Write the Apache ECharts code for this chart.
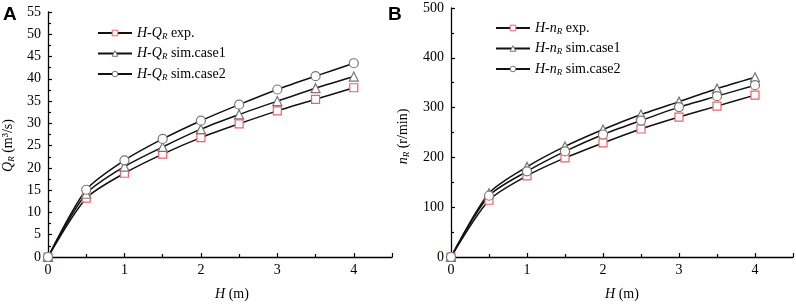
<!DOCTYPE html>
<html><head><meta charset="utf-8">
<script src="https://cdn.jsdelivr.net/npm/echarts@6/dist/echarts.min.js"></script>
<style>html,body{margin:0;padding:0;background:#fff}#c{width:796px;height:306px}</style>
</head><body><div id="c"></div>
<script>
const H = [0, 0.5, 1, 1.5, 2, 2.5, 3, 3.5, 4];
const qExp   = [0, 13.2, 18.8, 23.1, 26.8, 29.9, 32.8, 35.4, 38.0];
const qCase1 = [0, 14.2, 20.3, 24.7, 28.7, 32.0, 35.0, 37.9, 40.5];
const qCase2 = [0, 15.1, 21.7, 26.5, 30.6, 34.2, 37.6, 40.6, 43.5];
const nExp   = [0, 114, 163, 199, 229, 257, 281, 303, 325];
const nCase1 = [0, 128, 181, 222, 256, 286, 312, 338, 361];
const nCase2 = [0, 123, 172, 212, 246, 274, 301, 323, 345];
const xTicks = [0, 1, 2, 3, 4];
const qTicks = [0,5,10,15,20,25,30,35,40,45,50,55];
const nTicks = [0,100,200,300,400,500];

const FONT = '"Liberation Serif", "Times New Roman", serif';
const pair = (xs, ys) => xs.map((x, i) => [x, ys[i]]);
const RED = '#f0606a', GRAY = '#777';

const chart = echarts.init(document.getElementById('c'), null, {renderer: 'canvas'});

const tickStyle = {color: '#000', width: 1.2};
const axisCommon = {
  axisLine: {show: true, lineStyle: {color: '#000', width: 1.3}},
  axisTick: {show: true, inside: true, length: 4, lineStyle: tickStyle},
  minorTick: {show: true, splitNumber: 2, length: 3, lineStyle: tickStyle},
  splitLine: {show: false},
  minorSplitLine: {show: false},
  axisLabel: {color: '#000', fontFamily: FONT, fontSize: 14},
  nameTextStyle: {color: '#000', fontFamily: FONT, fontSize: 14}
};

function xAx(gi, pad) {
  return Object.assign({}, axisCommon, {
    type: 'value', gridIndex: gi, min: 0, max: 4.5, interval: 1,
    axisLabel: Object.assign({}, axisCommon.axisLabel, {margin: 6,
      formatter: v => xTicks.indexOf(v) >= 0 ? String(v) : ''}),
    name: '{i|H} (m)', nameLocation: 'middle', nameGap: 30,
    nameTextStyle: Object.assign({}, axisCommon.nameTextStyle, {padding: pad,
      rich: {i: {fontFamily: FONT, fontSize: 14, fontStyle: 'italic', color: '#000'}}})
  });
}

const subRich = {
  i: {fontFamily: FONT, fontSize: 14, fontStyle: 'italic', color: '#000', lineHeight: 16},
  s: {fontFamily: FONT, fontSize: 9, fontStyle: 'italic', color: '#000', verticalAlign: 'bottom', lineHeight: 12, padding: [5,0,0,0]},
  n: {fontFamily: FONT, fontSize: 14, color: '#000', lineHeight: 16}
};

function legItems(names) {
  const strokes = [RED, GRAY, GRAY];
  return names.map((n, i) => ({name: n, itemStyle: {color: '#fff', borderColor: strokes[i], borderWidth: 1}}));
}

const option = {
  animation: false,
  backgroundColor: '#fff',
  graphic: [
    {type: 'text', left: 3, top: 5, style: {text: 'A', font: 'bold 19px "Liberation Sans", Arial, sans-serif', fill: '#000'}},
    {type: 'text', left: 388, top: 5, style: {text: 'B', font: 'bold 19px "Liberation Sans", Arial, sans-serif', fill: '#000'}}
  ],
  grid: [
    {left: 48, top: 12, width: 344, height: 254},
    {left: 451, top: 8, width: 342, height: 255}
  ],
  xAxis: [xAx(0, [0, 0, 0, 24]), xAx(1, [0, 0, 0, 0])],
  yAxis: [
    Object.assign({}, axisCommon, {
      type: 'value', gridIndex: 0, min: 0, max: 55, interval: 5,
      axisLabel: Object.assign({}, axisCommon.axisLabel, {margin: 7,
        formatter: v => qTicks.indexOf(v) >= 0 ? String(v) : ''}),
      name: '{i|Q}{s|R}{n| (m³/s)}', nameLocation: 'middle', nameGap: 32,
      nameTextStyle: Object.assign({}, axisCommon.nameTextStyle, {rich: subRich, padding: [0, 22, 0, 0]})
    }),
    Object.assign({}, axisCommon, {
      type: 'value', gridIndex: 1, min: 0, max: 500, interval: 100,
      axisLabel: Object.assign({}, axisCommon.axisLabel, {margin: 7,
        formatter: v => nTicks.indexOf(v) >= 0 ? String(v) : ''}),
      name: '{i|n}{s|R}{n| (r/min)}', nameLocation: 'middle', nameGap: 40,
      nameTextStyle: Object.assign({}, axisCommon.nameTextStyle, {rich: subRich, padding: [0, 8, 0, 0]})
    })
  ],
  legend: [
    {
      data: legItems(['Q exp.', 'Q sim.case1', 'Q sim.case2']),
      orient: 'vertical', left: 97, top: 26, padding: 0, itemWidth: 34, itemHeight: 7, itemGap: 5.5,
      formatter: n => '{i|H-Q}{s|R}{n| ' + n.slice(2) + '}',
      textStyle: {fontFamily: FONT, fontSize: 14, color: '#000', rich: subRich}
    },
    {
      data: legItems(['n exp.', 'n sim.case1', 'n sim.case2']),
      orient: 'vertical', left: 495, top: 21, padding: 0, itemWidth: 34, itemHeight: 7, itemGap: 5.5,
      formatter: n => '{i|H-n}{s|R}{n| ' + n.slice(2) + '}',
      textStyle: {fontFamily: FONT, fontSize: 14, color: '#000', rich: subRich}
    }
  ],
  series: []
};

function mk(name, gi, data, sym, stroke, size) {
  return {
    name, type: 'line', xAxisIndex: gi, yAxisIndex: gi, data,
    smooth: 0.25, symbol: sym, symbolSize: size, showSymbol: true,
    lineStyle: {color: '#111', width: 1.5},
    itemStyle: {color: '#fff', borderColor: stroke, borderWidth: 1.2},
    z: 3
  };
}
option.series = [
  mk('Q exp.', 0, pair(H, qExp), 'rect', RED, 8),
  mk('Q sim.case1', 0, pair(H, qCase1), 'triangle', GRAY, 9),
  mk('Q sim.case2', 0, pair(H, qCase2), 'circle', GRAY, 9),
  mk('n exp.', 1, pair(H, nExp), 'rect', RED, 8),
  mk('n sim.case1', 1, pair(H, nCase1), 'triangle', GRAY, 9),
  mk('n sim.case2', 1, pair(H, nCase2), 'circle', GRAY, 9)
];
chart.setOption(option);
</script></body></html>
